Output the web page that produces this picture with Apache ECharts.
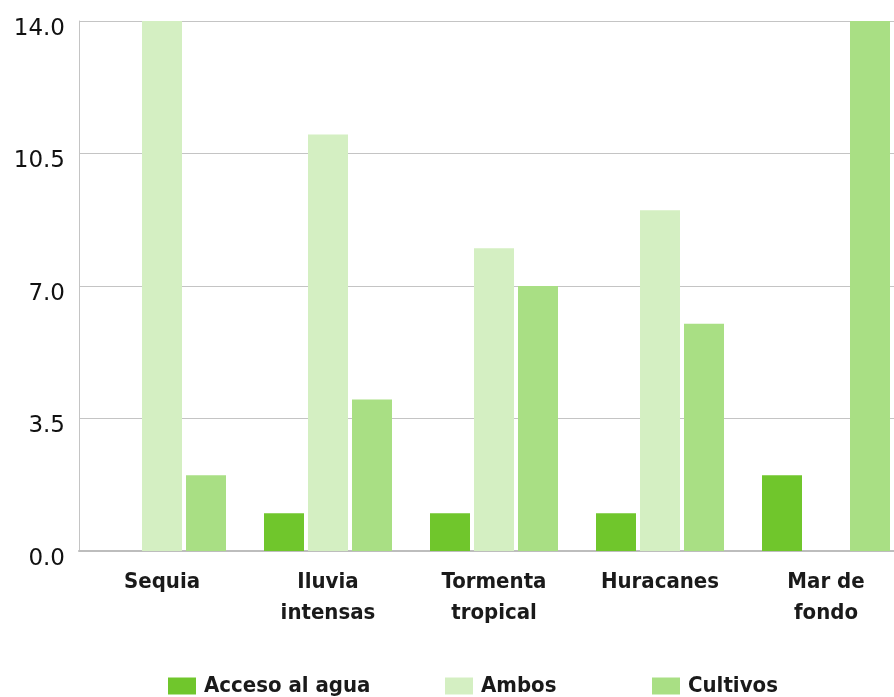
<!DOCTYPE html>
<html><head><meta charset="utf-8">
<script src="https://cdn.jsdelivr.net/npm/echarts@6/dist/echarts.min.js"></script>
<style>html,body{margin:0;padding:0;background:#fff}#c{width:894px;height:697px}</style>
</head><body><div id="c"></div>
<script>
const categories = ['Sequia', 'Iluvia\nintensas', 'Tormenta\ntropical', 'Huracanes', 'Mar de\nfondo'];
const accesoAlAgua = [0, 1, 1, 1, 2];
const ambos = [14, 11, 8, 9, 0];
const cultivos = [2, 4, 7, 6, 14];
const yTicks = ['0.0', '3.5', '7.0', '10.5', '14.0'];
const seriesNames = ['Acceso al agua', 'Ambos', 'Cultivos'];
const seriesColors = ['#70c62c', '#d4efc2', '#a9df84'];

const font = '"DejaVu Sans Condensed", "DejaVu Sans", sans-serif';
const legendLefts = [168, 445, 652];
const chart = echarts.init(document.getElementById('c'), null, {renderer: 'canvas'});
chart.setOption({
  animation: false,
  grid: {left: 79, top: 21, width: 830, height: 530, containLabel: false, outerBoundsMode: 'none'},
  legend: seriesNames.map((n, i) => ({
    bottom: 0, left: legendLefts[i], padding: 0, itemWidth: 28, itemHeight: 17, icon: 'rect',
    textStyle: {fontFamily: font, fontSize: 22, fontWeight: 'bold', color: '#1a1a1a', padding: [0, 0, 0, 3]},
    data: [n]
  })),
  xAxis: {
    type: 'category', data: categories,
    axisLine: {lineStyle: {color: '#bdbdbd', width: 2}},
    axisTick: {show: false},
    axisLabel: {fontFamily: font, fontSize: 22, fontWeight: 'bold', color: '#1a1a1a', lineHeight: 31, margin: 16}
  },
  yAxis: {
    type: 'value', min: 0, max: 14, interval: 3.5,
    axisLine: {show: true, lineStyle: {color: '#c4c4c4', width: 1}},
    axisTick: {show: false},
    splitLine: {lineStyle: {color: '#c4c4c4', width: 1}},
    axisLabel: {fontFamily: '"DejaVu Sans", sans-serif', fontSize: 23, color: '#111', margin: 14,
      verticalAlign: 'top', lineHeight: 16,
      formatter: v => yTicks[Math.round(v / 3.5)]}
  },
  series: [
    {name: seriesNames[0], type: 'bar', data: accesoAlAgua, barWidth: 40, barGap: '10%', itemStyle: {color: seriesColors[0]}},
    {name: seriesNames[1], type: 'bar', data: ambos, barWidth: 40, barGap: '10%', itemStyle: {color: seriesColors[1]}},
    {name: seriesNames[2], type: 'bar', data: cultivos, barWidth: 40, barGap: '10%', itemStyle: {color: seriesColors[2]}}
  ]
});
</script></body></html>
